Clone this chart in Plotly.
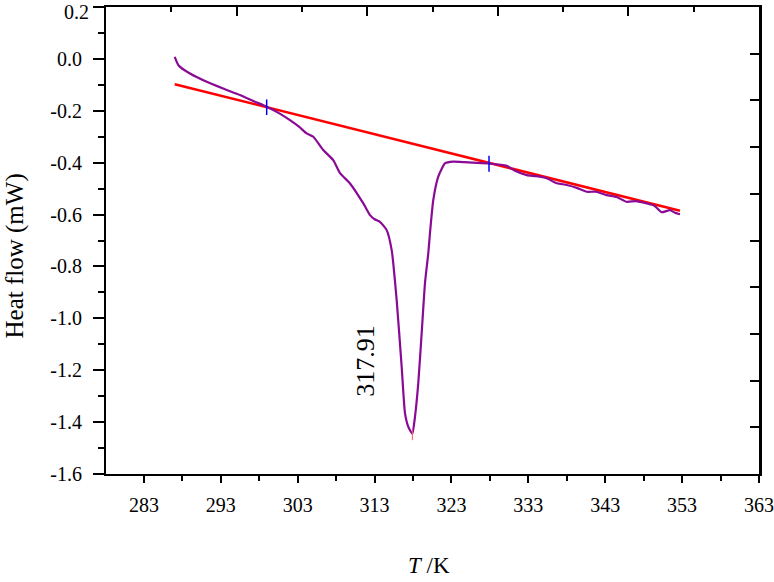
import plotly.graph_objects as go

# DSC curve (T in K, heat flow in mW)
T = [287.0, 287.5, 288.98, 291.16, 293.3, 295.49, 297.3, 298.96, 300.5, 301.99, 303.2, 304.16, 305.02,
     306.32, 307.62, 308.5, 309.8, 311.53, 312.4, 313.0, 313.7, 314.57, 315.22, 315.87, 316.52,
     316.95, 317.4, 317.91, 318.25, 318.68, 319.12, 319.55, 319.98, 320.2, 320.63, 321.28,
     322.15, 323.23, 325.83, 327.88, 330.18, 331.2, 332.78, 334.0, 335.38, 336.6, 337.99,
     339.3, 340.59, 341.8, 343.19, 344.5, 345.79, 347.0, 348.39, 349.4, 350.34, 351.42, 352.0, 352.72]
HF = [0.008, -0.025, -0.056, -0.088, -0.114, -0.139, -0.163, -0.184, -0.208, -0.236, -0.262, -0.287, -0.30,
      -0.351, -0.39, -0.44, -0.48, -0.557, -0.602, -0.618, -0.628, -0.66, -0.737, -0.93, -1.187,
      -1.366, -1.42, -1.445, -1.38, -1.25, -1.058, -0.865, -0.75, -0.672, -0.544, -0.454,
      -0.403, -0.396, -0.40, -0.403, -0.412, -0.43, -0.448, -0.452, -0.46, -0.478, -0.486,
      -0.497, -0.512, -0.512, -0.525, -0.532, -0.551, -0.548, -0.557, -0.566, -0.591, -0.583, -0.592, -0.599]

# baseline endpoints
base_T = [287.0, 352.72]
base_HF = [-0.097, -0.585]

# integration limit markers
lim1_T = [298.96, 298.96]
lim1_HF = [-0.156, -0.216]
lim2_T = [327.88, 327.88]
lim2_HF = [-0.373, -0.435]
peak_T = [317.91, 317.91]
peak_HF = [-1.43, -1.47]
peak_label = "317.91"

x_ticks = [283, 293, 303, 313, 323, 333, 343, 353, 363]
y_ticks = [0.2, 0.0, -0.2, -0.4, -0.6, -0.8, -1.0, -1.2, -1.4, -1.6]
# top tick label is drawn as an annotation so it stays inside the page
y_ticktext = ["" if v == 0.2 else f"{v:.1f}" for v in y_ticks]

FONT = "Liberation Serif, serif"

fig = go.Figure()
fig.add_trace(go.Scatter(x=base_T, y=base_HF, mode="lines",
                         line=dict(color="#ff0000", width=2.6), showlegend=False))
fig.add_trace(go.Scatter(x=T, y=HF, mode="lines",
                         line=dict(color="#8a0a96", width=2.2, shape="spline", smoothing=0.5),
                         showlegend=False))
fig.add_trace(go.Scatter(x=lim1_T, y=lim1_HF, mode="lines",
                         line=dict(color="#0000ff", width=1.5), showlegend=False))
fig.add_trace(go.Scatter(x=lim2_T, y=lim2_HF, mode="lines",
                         line=dict(color="#0000ff", width=1.5), showlegend=False))
fig.add_trace(go.Scatter(x=peak_T, y=peak_HF, mode="lines",
                         line=dict(color="#ff6060", width=1), showlegend=False))
# dummy trace for secondary frame axes
fig.add_trace(go.Scatter(x=[0], y=[0], xaxis="x2", yaxis="y2", mode="markers",
                         marker=dict(opacity=0), showlegend=False, hoverinfo="skip"))

fig.update_layout(
    width=774, height=582,
    margin=dict(l=106, r=15, t=7, b=108, autoexpand=False),
    paper_bgcolor="white", plot_bgcolor="white",
    font=dict(family=FONT, color="black", size=20),
    xaxis=dict(range=[278.06, 363], tickvals=x_ticks, ticktext=[str(v) for v in x_ticks],
               ticks="outside", ticklen=7, tickwidth=2, tickcolor="black",
               minor=dict(tickvals=[v + 5 for v in x_ticks[:-1]], ticks="outside",
                          ticklen=5, tickwidth=1.5, tickcolor="black"),
               showline=True, linecolor="black", linewidth=2, showgrid=False, zeroline=False,
               tickfont=dict(size=20, family=FONT), ticklabelstandoff=5,
               ticklabeloverflow="allow", automargin=False),
    yaxis=dict(range=[-1.6005, 0.2005], tickvals=y_ticks, ticktext=y_ticktext,
               ticks="outside", ticklen=11, tickwidth=2, tickcolor="black",
               minor=dict(tickvals=[round(v - 0.1, 2) for v in y_ticks[:-1]], ticks="outside",
                          ticklen=6, tickwidth=2, tickcolor="black"),
               showline=True, linecolor="black", linewidth=2, showgrid=False, zeroline=False,
               tickfont=dict(size=20, family=FONT), ticklabelstandoff=7,
               ticklabeloverflow="allow", automargin=False),
    xaxis2=dict(overlaying="x", side="top", range=[0, 10], tickvals=[0, 2, 4, 6, 8, 10],
                ticks="inside", ticklen=9, tickwidth=2, tickcolor="black",
                minor=dict(tickvals=[1, 3, 5, 7, 9], ticks="inside", ticklen=5, tickwidth=1.5,
                           tickcolor="black"),
                showticklabels=False, showline=True, linecolor="black", linewidth=2,
                showgrid=False, zeroline=False, automargin=False),
    yaxis2=dict(overlaying="y", side="right", range=[0, 10], tickvals=list(range(11)),
                ticks="inside", ticklen=9, tickwidth=2, tickcolor="black",
                showticklabels=False, showline=True, linecolor="black", linewidth=3,
                showgrid=False, zeroline=False, automargin=False),
    annotations=[
        dict(text=f"{y_ticks[0]:.1f}", xref="paper", x=0, yref="paper", y=1,
             xanchor="right", yanchor="top", xshift=-16, yshift=7, showarrow=False,
             borderpad=0, font=dict(size=20, family=FONT)),
        dict(text="Heat flow (mW)", xref="paper", x=-0.14, yref="paper", y=0.467,
             xanchor="center", yanchor="middle", textangle=-90, showarrow=False,
             font=dict(size=25, family=FONT)),
        dict(text="<i>T</i> /K", xref="paper", yref="paper", x=0.495, y=-0.196,
             xanchor="center", yanchor="middle", showarrow=False,
             font=dict(size=23, family=FONT)),
        dict(text=peak_label, x=311.7, y=-1.165, xref="x", yref="y",
             xanchor="center", yanchor="middle", textangle=-90, showarrow=False,
             font=dict(size=26, family=FONT)),
    ],
)

fig.write_html("out.html")
